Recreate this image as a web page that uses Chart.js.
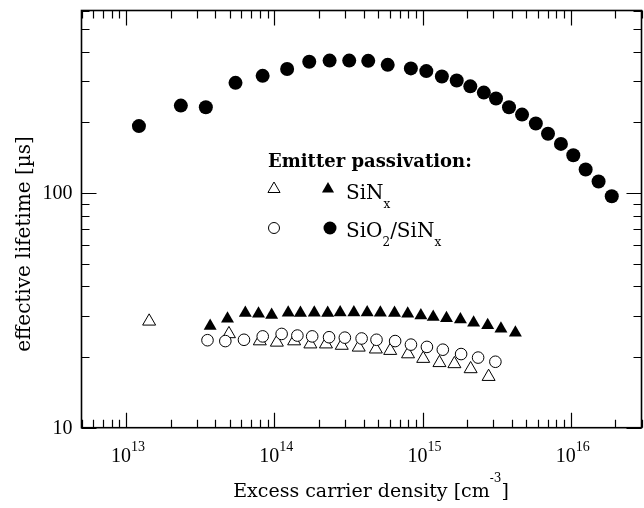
<!DOCTYPE html>
<html>
<head>
<meta charset="utf-8">
<script src="https://cdn.jsdelivr.net/npm/chart.js@4.4.1/dist/chart.umd.min.js"></script>
<style>
  html, body { margin: 0; padding: 0; background: #fff; overflow: hidden; }
  #wrap { width: 650px; height: 508px; }
</style>
</head>
<body>
<div id="wrap"><canvas id="myChart"></canvas></div>
<script>
// SiO2/SiNx passivated emitter (filled circles)
const sioFilledX = [1.22e13, 2.34e13, 3.45e13, 5.47e13, 8.34e13, 1.22e14, 1.72e14, 2.36e14, 3.20e14,
  4.30e14, 5.82e14, 8.34e14, 1.06e15, 1.35e15, 1.70e15, 2.10e15, 2.59e15, 3.13e15, 3.83e15,
  4.69e15, 5.81e15, 7.02e15, 8.58e15, 1.04e16, 1.26e16, 1.54e16, 1.89e16];
const sioFilledY = [193, 236, 232, 295, 316, 338, 363, 367, 367, 366, 352, 340, 331, 314, 302,
  285, 268, 253, 232, 216, 198, 179, 162, 145, 126, 112, 97];

// SiNx passivated emitter (filled triangles)
const sinFilledX = [3.69e13, 4.83e13, 6.37e13, 7.82e13, 9.59e13, 1.24e14, 1.50e14, 1.86e14, 2.29e14,
  2.78e14, 3.44e14, 4.23e14, 5.19e14, 6.47e14, 7.94e14, 9.74e14, 1.18e15, 1.45e15, 1.80e15,
  2.21e15, 2.75e15, 3.38e15, 4.23e15];
const sinFilledY = [27.1, 29.1, 30.8, 30.6, 30.2, 30.9, 30.8, 30.9, 30.8, 31.0, 31.0, 31.0, 30.9,
  30.8, 30.6, 30.1, 29.6, 29.3, 28.9, 28.0, 27.3, 26.4, 25.4];

// SiO2/SiNx, open circles
const sioOpenX = [3.54e13, 4.67e13, 6.24e13, 8.35e13, 1.12e14, 1.43e14, 1.80e14, 2.34e14, 2.99e14,
  3.88e14, 4.89e14, 6.53e14, 8.35e14, 1.07e15, 1.37e15, 1.82e15, 2.37e15, 3.10e15];
const sioOpenY = [23.6, 23.4, 23.7, 24.5, 25.1, 24.7, 24.5, 24.3, 24.2, 24.0, 23.7, 23.4, 22.6,
  22.1, 21.5, 20.6, 19.9, 19.1];

// SiNx, open triangles
const sinOpenX = [1.43e13, 4.94e13, 7.98e13, 1.04e14, 1.36e14, 1.75e14, 2.23e14, 2.85e14, 3.71e14,
  4.84e14, 6.05e14, 7.98e14, 1.01e15, 1.30e15, 1.64e15, 2.11e15, 2.79e15];
const sinOpenY = [28.4, 25.1, 23.4, 23.1, 23.4, 22.7, 22.7, 22.4, 22.0, 21.6, 21.3, 20.6, 19.7,
  18.9, 18.7, 17.8, 16.5];

const xTickExps = [13, 14, 15, 16];
const yTickLabels = [10, 100];

function pts(xs, ys) {
  return xs.map((x, i) => ({ x: x, y: ys[i] }));
}

const serif = '"DejaVu Serif", serif';
const numFont = '"Liberation Serif", serif';

function drawTri(ctx, x, y, r) {
  ctx.beginPath();
  for (let k = 0; k < 3; k++) {
    const a = k * 2 * Math.PI / 3;
    const px = x + Math.sin(a) * r, py = y - Math.cos(a) * r;
    if (k == 0) ctx.moveTo(px, py); else ctx.lineTo(px, py);
  }
  ctx.closePath();
}

const framePlugin = {
  id: 'frame',
  beforeDatasetsDraw(chart) {
    const ctx = chart.ctx;
    const a = chart.chartArea;
    const xs = chart.scales.x, ys = chart.scales.y;
    ctx.save();
    ctx.strokeStyle = '#000';
    ctx.lineWidth = 1.2;
    // x ticks, bottom and top, pointing inward
    for (let e = 12; e <= 16; e++) {
      for (let m = 1; m <= 9; m++) {
        const v = m * Math.pow(10, e);
        if (v < xs.min || v > xs.max) continue;
        const px = Math.round(xs.getPixelForValue(v)) + 0.5;
        const len = m == 1 ? 15 : 8;
        ctx.beginPath();
        ctx.moveTo(px, a.bottom); ctx.lineTo(px, a.bottom - len);
        ctx.moveTo(px, a.top); ctx.lineTo(px, a.top + len);
        ctx.stroke();
      }
    }
    // y ticks, left and right
    for (let e = 1; e <= 2; e++) {
      for (let m = 1; m <= 9; m++) {
        const v = m * Math.pow(10, e);
        if (v < ys.min || v > ys.max) continue;
        const py = Math.round(ys.getPixelForValue(v)) + 0.5;
        const len = m == 1 ? 15 : 8;
        ctx.beginPath();
        ctx.moveTo(a.left, py); ctx.lineTo(a.left + len, py);
        ctx.moveTo(a.right, py); ctx.lineTo(a.right - len, py);
        ctx.stroke();
      }
    }
    ctx.lineWidth = 1.6;
    ctx.strokeRect(a.left, a.top, a.right - a.left, a.bottom - a.top);
    ctx.restore();
  },
  afterDraw(chart) {
    const ctx = chart.ctx;
    const a = chart.chartArea;
    const xs = chart.scales.x, ys = chart.scales.y;
    ctx.save();
    ctx.fillStyle = '#000';
    ctx.textBaseline = 'alphabetic';

    // x tick labels 10^n
    xTickExps.forEach(n => {
      const px = xs.getPixelForValue(Math.pow(10, n)) + 2;
      ctx.font = '20px ' + numFont;
      const wb = ctx.measureText('10').width;
      ctx.font = '14px ' + numFont;
      const we = ctx.measureText(String(n)).width;
      const x0 = px - (wb + we) / 2;
      ctx.font = '20px ' + numFont;
      ctx.textAlign = 'left';
      ctx.fillText('10', x0, 462);
      ctx.font = '14px ' + numFont;
      ctx.fillText(String(n), x0 + wb, 451);
    });

    // y tick labels
    ctx.font = '20px ' + numFont;
    ctx.textAlign = 'right';
    ctx.textBaseline = 'middle';
    yTickLabels.forEach(v => {
      ctx.fillText(String(v), a.left - 9, ys.getPixelForValue(v) + 1);
    });

    // y title
    ctx.save();
    ctx.translate(30, 244);
    ctx.rotate(-Math.PI / 2);
    ctx.font = '20px ' + serif;
    ctx.textAlign = 'center';
    ctx.textBaseline = 'alphabetic';
    ctx.fillText('effective lifetime [\u00b5s]', 0, 0);
    ctx.restore();

    // x title with superscript
    ctx.textBaseline = 'alphabetic';
    ctx.textAlign = 'left';
    const t1 = 'Excess carrier density [cm', t2 = '-3', t3 = ']';
    ctx.font = '19px ' + serif;
    const w1 = ctx.measureText(t1).width, w3 = ctx.measureText(t3).width;
    ctx.font = '12px ' + serif;
    const w2 = ctx.measureText(t2).width;
    let tx = 371 - (w1 + w2 + w3) / 2;
    ctx.font = '19px ' + serif;
    ctx.fillText(t1, tx, 497);
    ctx.font = '12px ' + serif;
    ctx.fillText(t2, tx + w1, 482);
    ctx.font = '19px ' + serif;
    ctx.fillText(t3, tx + w1 + w2, 497);

    // legend
    ctx.font = 'bold 18px ' + serif;
    ctx.fillText('Emitter passivation:', 268, 167);
    ctx.lineWidth = 1;
    ctx.strokeStyle = '#000';
    ctx.fillStyle = '#fff';
    drawTri(ctx, 274, 189, 7); ctx.fill(); ctx.stroke();
    ctx.fillStyle = '#000';
    drawTri(ctx, 328, 189, 7); ctx.fill();
    ctx.fillStyle = '#fff';
    ctx.beginPath(); ctx.arc(274, 228, 5.5, 0, 2 * Math.PI); ctx.fill(); ctx.stroke();
    ctx.fillStyle = '#000';
    ctx.beginPath(); ctx.arc(330, 228, 6.5, 0, 2 * Math.PI); ctx.fill();

    let lx = 346;
    ctx.font = '20px ' + serif;
    ctx.fillText('SiN', lx, 199);
    let w = ctx.measureText('SiN').width;
    ctx.font = '12px ' + serif;
    ctx.fillText('x', lx + w, 208);

    ctx.font = '20px ' + serif;
    ctx.fillText('SiO', lx, 237);
    w = ctx.measureText('SiO').width;
    ctx.font = '12px ' + serif;
    ctx.fillText('2', lx + w, 246);
    w += ctx.measureText('2').width;
    ctx.font = '20px ' + serif;
    ctx.fillText('/SiN', lx + w, 237);
    w += ctx.measureText('/SiN').width;
    ctx.font = '12px ' + serif;
    ctx.fillText('x', lx + w, 246);
    ctx.restore();
  }
};

var ctx = document.getElementById('myChart').getContext('2d');
let myChart = new Chart(ctx, {
  type: 'scatter',
  data: {
    datasets: [
      {
        label: 'SiO2/SiNx open',
        data: pts(sioOpenX, sioOpenY),
        pointStyle: 'circle',
        pointRadius: 5.8,
        backgroundColor: '#fff',
        borderColor: '#000',
        borderWidth: 1,
      },
      {
        label: 'SiNx open',
        data: pts(sinOpenX, sinOpenY),
        pointStyle: 'triangle',
        pointRadius: 7.5,
        backgroundColor: '#fff',
        borderColor: '#000',
        borderWidth: 1,
      },
      {
        label: 'SiNx',
        data: pts(sinFilledX, sinFilledY),
        pointStyle: 'triangle',
        pointRadius: 7.5,
        backgroundColor: '#000',
        borderColor: '#000',
        borderWidth: 0,
      },
      {
        label: 'SiO2/SiNx',
        data: pts(sioFilledX, sioFilledY),
        pointStyle: 'circle',
        pointRadius: 7,
        backgroundColor: '#000',
        borderColor: '#000',
        borderWidth: 0,
      },
    ],
  },
  options: {
    responsive: true,
    maintainAspectRatio: false,
    animation: false,
    layout: {
      padding: { left: 81.5, right: 2, top: 10.5, bottom: 80.3 },
    },
    scales: {
      x: { type: 'logarithmic', min: 5e12, max: 3e16, display: false },
      y: { type: 'logarithmic', min: 10, max: 600, display: false },
    },
    plugins: {
      legend: { display: false },
      tooltip: { enabled: false },
    },
  },
  plugins: [framePlugin],
});
</script>
</body>
</html>
